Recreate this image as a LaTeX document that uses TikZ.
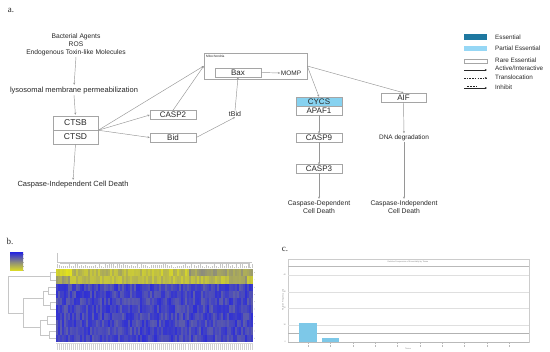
\documentclass[tikz,border=0pt]{standalone}
\usepackage{fontspec}
\setmainfont{Liberation Sans}
\newfontfamily\serifpanel{Liberation Serif}
\usetikzlibrary{arrows.meta}
\definecolor{lineg}{RGB}{150,150,150}
\definecolor{boxg}{RGB}{165,165,165}
\definecolor{txt}{RGB}{40,40,40}
\definecolor{essblue}{RGB}{30,120,160}
\definecolor{partblue}{RGB}{150,215,245}
\definecolor{cycsblue}{RGB}{135,210,240}
\definecolor{hmblue}{RGB}{45,45,215}
\definecolor{hmgray}{RGB}{140,140,125}
\definecolor{hmyellow}{RGB}{225,225,30}
\definecolor{barblue}{RGB}{125,200,232}
\begin{document}
\begin{tikzpicture}[x=1pt,y=-1pt,
  gbox/.style={draw=boxg, line width=0.5pt, rectangle, inner sep=0pt, minimum width=46pt, minimum height=9pt, text=txt, font=\fontsize{8}{8}\selectfont},
  lbl/.style={inner sep=0.5pt, align=center, text=txt, font=\fontsize{6.7}{8}\selectfont},
  biglbl/.style={inner sep=0.5pt, align=center, text=txt, font=\fontsize{7.5}{8.5}\selectfont},
  leg/.style={inner sep=0pt, anchor=west, text=txt, font=\fontsize{6.3}{7}\selectfont},
  conn/.style={draw=lineg, line width=0.45pt, -{Stealth[length=2.2pt,width=2pt]}},
  panel/.style={inner sep=0pt, font=\serifpanel\fontsize{9}{9}\selectfont, text=txt},
  dendro/.style={draw=gray!45, line width=0.35pt},
  tiny/.style={inner sep=0pt, text=gray, font=\fontsize{2}{2}\selectfont},
  grid/.style={draw=gray!25, line width=0.35pt}
]
\useasboundingbox (0,0) rectangle (550,352);
\fill[white] (0,0) rectangle (550,352);

% ---------------- panel a ----------------
\node[panel] (pa) at (11,10) {a.};

\node[lbl] (src) at (76,45) {Bacterial Agents\\ROS\\Endogenous Toxin-like Molecules};
\node[biglbl] (lmp) at (74,91) {lysosomal membrane permeabilization};
\node[gbox, minimum width=45pt, minimum height=14pt, font=\fontsize{8.5}{8.5}\selectfont] (ctsb) at (75.5,123) {CTSB};
\node[gbox, minimum width=45pt, minimum height=14pt, font=\fontsize{8.5}{8.5}\selectfont] (ctsd) at (75.5,137) {CTSD};
\node[biglbl] (cid) at (73,185) {Caspase-Independent Cell Death};
\coordinate (j) at (ctsb.south east);

\node[gbox] (casp2) at (173,115) {CASP2};
\node[gbox] (bid) at (173,137.5) {Bid};
\node[lbl, font=\fontsize{7}{8}\selectfont] (tbid) at (235,114) {tBid};

\node[draw=boxg, line width=0.5pt, rectangle, inner sep=0pt, minimum width=103pt, minimum height=26pt] (mito) at (255.5,66) {};
\node[tiny, font=\fontsize{3.2}{3.2}\selectfont, text=txt, anchor=west] (mitol) at (206,56.5) {Mitochondria};
\node[gbox] (bax) at (238,72.5) {Bax};
\node[lbl, font=\fontsize{6.5}{7}\selectfont] (momp) at (291,73) {MOMP};

\node[gbox, fill=cycsblue] (cycs) at (319,101.5) {CYCS};
\node[gbox] (apaf) at (319,110.5) {APAF1};
\node[gbox, minimum height=8.5pt] (casp9) at (319,138) {CASP9};
\node[gbox, minimum height=8.5pt] (casp3) at (319,169) {CASP3};
\node[lbl, font=\fontsize{6.8}{8}\selectfont] (cdd) at (319,207) {Caspase-Dependent\\Cell Death};

\node[gbox, minimum width=45pt] (aif) at (403.5,97.5) {AIF};
\node[lbl, font=\fontsize{6.5}{7}\selectfont] (dna) at (404,138) {DNA degradation};
\node[lbl, font=\fontsize{6.8}{8}\selectfont] (cid2) at (404,207) {Caspase-Independent\\Cell Death};

\draw[conn, shorten >=2pt] (src.south) -- (lmp.north);
\draw[conn, shorten >=1pt] (lmp.south) -- (ctsb.north);
\draw[conn, shorten >=1pt] (ctsd.south) -- (cid.north);
\draw[conn] (j) -- (mito.west);
\draw[conn] (j) -- (casp2.west);
\draw[conn] (j) -- (bid.west);
\draw[conn] (casp2.north) -- (mito.west);
\draw[conn] (bid.east) -- (tbid.south);
\draw[conn] (tbid.north) -- (bax.south);
\draw[conn] (bax.east) -- (momp.west);
\draw[conn] (mito.east) -- (cycs.north);
\draw[conn] (mito.east) -- (aif.north);
\draw[conn] (apaf.south) -- (casp9.north);
\draw[conn] (casp9.south) -- (casp3.north);
\draw[conn, shorten >=1pt] (casp3.south) -- (cdd.north);
\draw[conn, shorten >=1pt] (aif.south) -- (dna.north);
\draw[conn, shorten >=1pt] (dna.south) -- (cid2.north);

% legend
\fill[essblue] (464,34) rectangle (487,40);
\node[leg] (l1) at (495,37) {Essential};
\fill[partblue] (464,46) rectangle (487,51);
\node[leg] (l2) at (495,48.5) {Partial Essential};
\draw[draw=gray!70, line width=0.5pt] (464,59) rectangle (487,63);
\node[leg] (l3) at (495,60) {Rare Essential};
\coordinate (a1) at (464,70); \coordinate (a2) at (487,70);
\draw[conn, draw=txt] (a1) -- (a2);
\node[leg] (l4) at (495,68.5) {Active/Interactive};
\coordinate (t1) at (464,78); \coordinate (t2) at (487,78);
\draw[conn, draw=txt, dashed, dash pattern=on 1.5pt off 1.2pt] (t1) -- (t2);
\node[leg] (l5) at (495,77) {Translocation};
\coordinate (i1) at (464,88); \coordinate (i2) at (487,88);
\draw[conn, draw=txt] (i1) -- (i2);
\foreach \k in {0,...,6} \draw[draw=txt, line width=0.3pt] ({467+\k*1.5},86.3) -- ({467+\k*1.5},87.5);
\node[leg] (l6) at (495,87) {Inhibit};

% ---------------- panel b ----------------
\node[panel] (pb) at (10,241) {b.};
\shade[top color=hmblue, bottom color=hmyellow, middle color=hmgray] (10,253) rectangle (23,271);
\foreach \k in {0,...,4} \draw[draw=gray!60, line width=0.25pt] (23,{254+\k*4}) -- (24.2,{254+\k*4});

\pgfmathsetseed{12}
\foreach \c in {0,...,97}{
  \pgfmathsetmacro\xa{56+\c*2.01}
  \pgfmathsetmacro\xb{\xa+2.15}
  \pgfmathtruncatemacro\ya{max(0,min(100,(\c<8 ? 90 : (\c<40 ? 52 : (\c<66 ? 62 : 18)))+(rnd-0.5)*45))}
  \fill[hmyellow!\ya!hmgray] (\xa,269) rectangle (\xb,276.4);
  \pgfmathtruncatemacro\yb{max(0,min(100,(\c<7 ? 20 : (\c<86 ? 55 : (\c<95 ? 20 : 70)))+(rnd-0.5)*40))}
  \fill[hmyellow!\yb!hmgray] (\xa,276.3) rectangle (\xb,283.7);
  \foreach \r in {2,...,9}{
    \pgfmathsetmacro\yt{269+\r*7.3}
    \pgfmathsetmacro\ybt{\yt+7.4}
    \pgfmathtruncatemacro\bl{max(20,min(100,74+(rnd-0.5)*50))}
    \fill[hmblue!\bl!hmgray] (\xa,\yt) rectangle (\xb,\ybt);
  }
  \pgfmathsetmacro\hh{263.5+rnd*3.5}
  \draw[dendro] (\xa+1,268.5) -- (\xa+1,\hh);
  \draw[draw=gray!35, line width=0.3pt] (\xa+1,343.5) -- (\xa+1,350);
}
\draw[dendro] (57,253) -- (57,262) -- (252,262);
\draw[dendro] (60,263.5) -- (250,263.5);
\draw[dendro] (249,262) -- (249,268);
\draw[draw=gray!30, line width=0.3pt] (56,343.5) -- (253,343.5);
\foreach \r in {0,...,9} \fill[gray!60] (254.5,{272.6+\r*7.3}) circle (0.35);

% row dendrogram
\draw[dendro] (50,272.6) -- (56,272.6) (50,279.9) -- (56,279.9) (50,272.6) -- (50,279.9);
\draw[dendro] (50,276.3) -- (8,276.3) -- (8,313) -- (23,313);
\draw[dendro] (48,287.2) -- (56,287.2) (48,294.5) -- (56,294.5) (48,287.2) -- (48,294.5);
\draw[dendro] (50,301.8) -- (56,301.8) (50,309.1) -- (56,309.1) (50,301.8) -- (50,309.1);
\draw[dendro] (43,290.9) -- (48,290.9) (43,305.5) -- (50,305.5) (43,290.9) -- (43,305.5);
\draw[dendro] (47,316.4) -- (56,316.4) (47,323.7) -- (56,323.7) (47,316.4) -- (47,323.7);
\draw[dendro] (49,331) -- (56,331) (49,338.3) -- (56,338.3) (49,331) -- (49,338.3);
\draw[dendro] (40,320.1) -- (47,320.1) (40,334.7) -- (49,334.7) (40,320.1) -- (40,334.7);
\draw[dendro] (23,298.2) -- (43,298.2) (23,327.4) -- (40,327.4) (23,298.2) -- (23,327.4);

% ---------------- panel c ----------------
\node[panel] (pc) at (285,249) {c.};
\draw[draw=gray!40, line width=0.4pt] (288,259) rectangle (529,342);
\draw[draw=gray!55, line width=0.45pt] (288,266) -- (529,266);
\node[tiny] (ctitle) at (408,262) {Relative Frequencies of Essentiality by Tissue};
\foreach \yy in {275,291.7,308.3,325} \draw[grid] (288,\yy) -- (529,\yy);
\draw[draw=gray!60, line width=0.45pt] (288,333) -- (529,333);
\fill[barblue] (299,323) rectangle (317,342);
\fill[barblue] (322,338) rectangle (339,342);
\draw[draw=gray!55, line width=0.4pt] (288,342) -- (529,342);
\foreach \xx in {308,330.5,353,375,397.5,420,442,464.5,487,509}
  \draw[draw=gray!55, line width=0.3pt] (\xx,342) -- (\xx,344) (\xx,345) -- (\xx,347);
\foreach \yy/\v in {342/0,325/10,308.3/20,291.7/30,275/40}
  \node[tiny, anchor=east] at (286,\yy) {\v};
\node[tiny, rotate=90] (ylab) at (283,300) {Relative Frequency (\%)};
\node[tiny] (xlab) at (408,348.5) {Tissue};
\end{tikzpicture}
\end{document}
